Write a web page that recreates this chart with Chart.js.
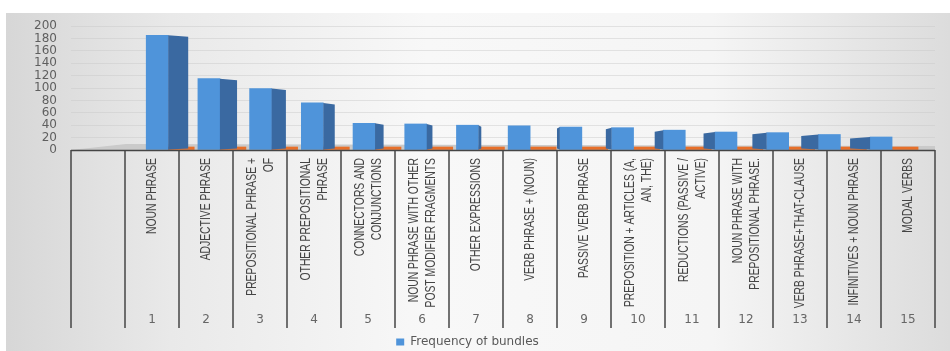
<!DOCTYPE html>
<html>
<head>
<meta charset="utf-8">
<script src="https://cdn.jsdelivr.net/npm/chart.js@4.4.1/dist/chart.umd.min.js"></script>
<style>
  html, body { margin: 0; padding: 0; background: #fff; }
  #wrap { width: 950px; height: 351px; position: relative; }
</style>
</head>
<body>
<div id="wrap"><canvas id="bundles"></canvas></div>
<script>
// categories (structure types of the lexical bundles)
var bundleNames = [
  ['NOUN PHRASE'],
  ['ADJECTIVE PHRASE'],
  ['PREPOSITIONAL PHRASE +', 'OF'],
  ['OTHER PREPOSITIONAL', 'PHRASE'],
  ['CONNECTORS AND', 'CONJUNCTIONS'],
  ['NOUN PHRASE WITH OTHER', 'POST MODIFIER FRAGMENTS'],
  ['OTHER EXPRESSIONS'],
  ['VERB PHRASE + (NOUN)'],
  ['PASSIVE VERB PHRASE'],
  ['PREPOSITION + ARTICLES (A,', 'AN, THE)'],
  ['REDUCTIONS (PASSIVE /', 'ACTIVE)'],
  ['NOUN PHRASE WITH', 'PREPOSITIONAL PHRASE.'],
  ['VERB PHRASE+THAT-CLAUSE'],
  ['INFINITIVES + NOUN PHRASE'],
  ['MODAL VERBS']
];
var bundleIds = [1, 2, 3, 4, 5, 6, 7, 8, 9, 10, 11, 12, 13, 14, 15];

// series
var bundleFreq = [185, 115, 99, 76, 43, 42, 40, 39, 37, 36, 32, 29, 28, 25, 21];
var bundleShare = [1.2, 0.8, 0.7, 0.5, 0.3, 0.3, 0.3, 0.3, 0.3, 0.2, 0.2, 0.2, 0.2, 0.2, 0.1];
var seriesLabel = 'Frequency of bundles';

// value axis
var yMin = 0, yMax = 200, yStep = 20;

var blue = '#4f94da';
var blueSide = '#3a69a1';
var orange = '#e8702a';

// page background, gray card with soft light middle
var backdrop = {
  id: 'backdrop',
  beforeDraw: function(chart) {
    var ctx = chart.ctx, w = chart.width, h = chart.height;
    ctx.save();
    ctx.fillStyle = '#ffffff';
    ctx.fillRect(0, 0, w, h);
    var g = ctx.createLinearGradient(0, 0, w, 0);
    g.addColorStop(0, '#d6d6d6');
    g.addColorStop(0.18, '#e9e9e9');
    g.addColorStop(0.45, '#f8f8f8');
    g.addColorStop(0.75, '#f5f5f5');
    g.addColorStop(1, '#dcdcdc');
    ctx.fillStyle = g;
    ctx.fillRect(6, 13, w - 6, h - 13);
    ctx.restore();
  }
};

// gray 3d floor under the columns
var floor = {
  id: 'floor',
  beforeDatasetsDraw: function(chart) {
    var a = chart.chartArea, ctx = chart.ctx;
    ctx.save();
    ctx.fillStyle = '#cacaca';
    ctx.beginPath();
    ctx.moveTo(a.left, a.bottom);
    ctx.lineTo(a.left + 55, a.bottom - 6);
    ctx.lineTo(a.right, a.bottom - 4);
    ctx.lineTo(a.right, a.bottom);
    ctx.closePath();
    ctx.fill();
    ctx.restore();
  }
};

// darker side face of each column (perspective turns from right to left)
var barSides = {
  id: 'barSides',
  afterDatasetsDraw: function(chart) {
    var meta = chart.getDatasetMeta(0), ctx = chart.ctx;
    var n = meta.data.length;
    ctx.save();
    meta.data.forEach(function(bar, i) {
      var depth = 20 * (1 - 2 * i / (n - 1));
      var edge = depth > 0 ? bar.x + bar.width / 2 : bar.x - bar.width / 2;
      ctx.fillStyle = blueSide;
      ctx.beginPath();
      ctx.moveTo(edge, bar.y);
      ctx.lineTo(edge + depth, bar.y + 1.5);
      ctx.lineTo(edge + depth, bar.base - 1);
      ctx.lineTo(edge, bar.base);
      ctx.closePath();
      ctx.fill();
    });
    ctx.restore();
  }
};

// data table under the plot: column rules and rotated category names
var table = {
  id: 'table',
  afterDraw: function(chart) {
    var xs = chart.scales.x, a = chart.chartArea, ctx = chart.ctx;
    var half = (xs.getPixelForValue(1) - xs.getPixelForValue(0)) / 2;
    var bottom = a.bottom + 178;
    ctx.save();
    ctx.strokeStyle = '#454545';
    ctx.lineWidth = 1.5;
    ctx.beginPath();
    ctx.moveTo(a.left, a.bottom + 0.5);
    ctx.lineTo(a.right, a.bottom + 0.5);
    ctx.moveTo(a.left, a.bottom);
    ctx.lineTo(a.left, bottom);
    for (var c = 0; c < xs.getLabels().length; c++) {
      var xr = xs.getPixelForValue(c) + half;
      ctx.moveTo(xr, a.bottom);
      ctx.lineTo(xr, bottom);
    }
    ctx.stroke();

    ctx.fillStyle = '#444444';
    ctx.font = '15px "Liberation Sans", Arial, sans-serif';
    ctx.textAlign = 'right';
    ctx.textBaseline = 'middle';
    bundleNames.forEach(function(lines, i) {
      var x = xs.getPixelForValue(i + 1);
      ctx.save();
      ctx.translate(x, a.bottom + 8);
      ctx.rotate(-Math.PI / 2);
      ctx.scale(0.69, 1);
      lines.forEach(function(t, j) {
        ctx.fillText(t, 0, (j - (lines.length - 1) / 2) * 17);
      });
      ctx.restore();
    });
    ctx.restore();
  }
};

var columnLabels = [''].concat(bundleIds.map(String));

new Chart(document.getElementById('bundles'), {
  type: 'bar',
  data: {
    labels: columnLabels,
    datasets: [{
      label: seriesLabel,
      data: bundleIds.map(function(id, i) { return { x: id, y: bundleFreq[i] }; }),
      xAxisID: 'xb',
      backgroundColor: blue,
      barThickness: 22
    }, {
      label: 'share',
      data: bundleIds.map(function(id, i) { return { x: id, y: bundleShare[i] }; }),
      xAxisID: 'xb',
      backgroundColor: orange,
      barThickness: 26,
      minBarLength: 3
    }]
  },
  options: {
    responsive: true,
    maintainAspectRatio: false,
    animation: false,
    layout: { padding: { top: 26, right: 15, bottom: -7, left: 0 } },
    scales: {
      x: {
        type: 'category',
        offset: true,
        grid: {
          display: true,
          drawOnChartArea: false,
          drawTicks: true,
          tickLength: 163,
          tickColor: 'rgba(0,0,0,0)',
          color: 'rgba(0,0,0,0)'
        },
        border: { display: false },
        ticks: {
          padding: 0,
          maxRotation: 0,
          color: '#666666',
          font: { family: '"DejaVu Sans", sans-serif', size: 12 }
        },
        afterFit: function(s) { s.height = 186; }
      },
      xb: {
        type: 'linear',
        display: false,
        offset: false,
        bounds: 'data',
        min: -0.88,
        max: 15.83
      },
      y: {
        min: yMin,
        max: yMax,
        border: { display: false },
        grid: { color: 'rgba(200,200,200,0.45)', drawTicks: false },
        ticks: {
          stepSize: yStep,
          autoSkip: false,
          padding: 14,
          color: '#5f5f5f',
          font: { family: '"DejaVu Sans", sans-serif', size: 12 }
        },
        afterFit: function(s) { s.width = 71; }
      }
    },
    plugins: {
      legend: {
        position: 'bottom',
        labels: {
          boxWidth: 8,
          boxHeight: 7,
          padding: 0,
          color: '#595959',
          font: { family: '"DejaVu Sans", sans-serif', size: 12 },
          filter: function(item) { return item.datasetIndex === 0; }
        }
      },
      tooltip: { enabled: false }
    }
  },
  plugins: [backdrop, floor, barSides, table]
});
</script>
</body>
</html>
